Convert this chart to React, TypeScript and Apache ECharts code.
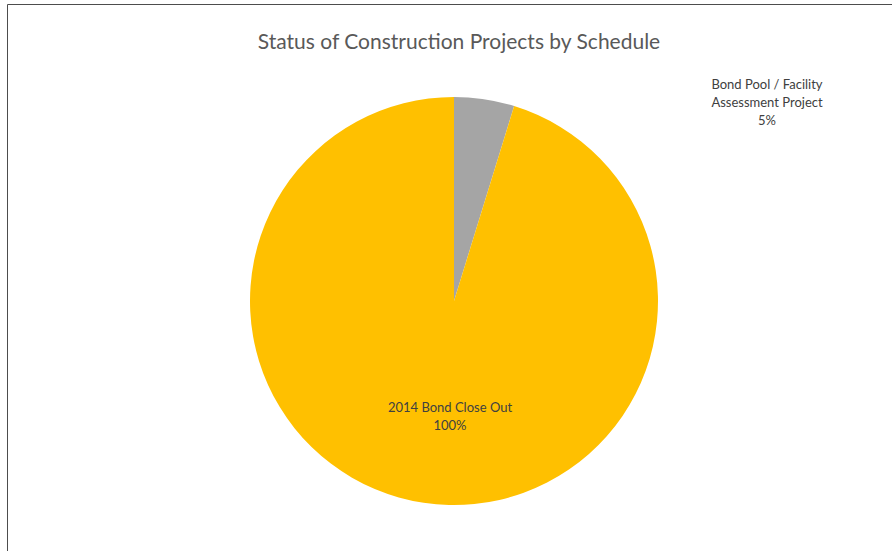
import React, { useEffect, useRef } from "react";
import * as echarts from "echarts";

const categories = ["Bond Pool / Facility\nAssessment Project", "2014 Bond Close Out"];
const values = [5, 100];
const labelPercents = ["5%", "100%"];
const colors = ["#A5A5A5", "#FFC000"];
const titleText = "Status of Construction Projects by Schedule";

export default function App() {
  const ref = useRef<HTMLDivElement>(null);
  useEffect(() => {
    if (!ref.current) return;
    const chart = echarts.init(ref.current, undefined, { renderer: "svg" });
    const labelPos = [
      { x: 767, y: 102 },
      { x: 450, y: 416 },
    ];
    chart.setOption({
      animation: false,
      backgroundColor: "#ffffff",
      title: {
        text: titleText,
        left: 454,
        top: 25,
        textAlign: "center",
        textStyle: {
          fontFamily: "Lato",
          fontSize: 21,
          fontWeight: "normal",
          color: "#595959",
        },
      },
      graphic: [
        {
          type: "rect",
          shape: { x: 7.5, y: 4.5, width: 1000, height: 1000 },
          style: { fill: "none", stroke: "#4d4d4d", lineWidth: 1 },
          silent: true,
        },
      ],
      series: [
        {
          type: "pie",
          center: [454, 301],
          radius: 204,
          startAngle: 90,
          clockwise: true,
          data: categories.map((name, i) => ({
            name,
            value: values[i],
            itemStyle: { color: colors[i] },
            label: { formatter: name + "\n" + labelPercents[i] },
          })),
          label: {
            show: true,
            position: "outside",
            fontFamily: "Lato",
            fontSize: 13,
            lineHeight: 18,
            color: "#404040",
            align: "center",
          },
          labelLine: { show: false },
          labelLayout: (params: any) => ({
            x: labelPos[params.dataIndex].x,
            y: labelPos[params.dataIndex].y,
            align: "center",
            verticalAlign: "middle",
          }),
          emphasis: { disabled: true },
        },
      ],
    });
    return () => chart.dispose();
  }, []);
  return (
    <div
      ref={ref}
      style={{ position: "absolute", left: 0, top: 0, width: 892, height: 551 }}
    />
  );
}
